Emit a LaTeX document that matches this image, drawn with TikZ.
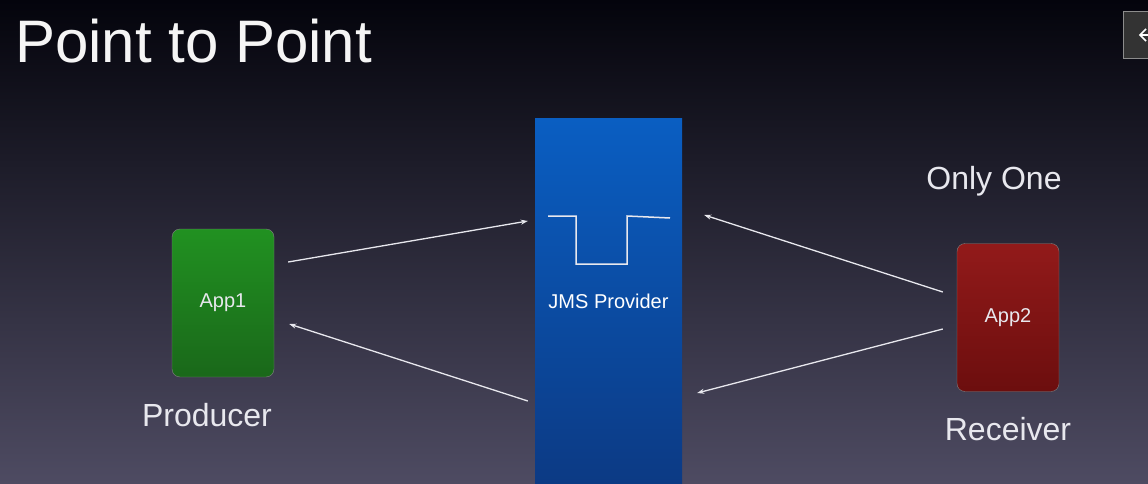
\documentclass[tikz,border=0pt]{standalone}
\usepackage{fontspec}
\setmainfont{Liberation Sans}
\usepackage{xcolor}
\usetikzlibrary{arrows.meta}
\definecolor{bgtop}{RGB}{4,4,12}
\definecolor{bgmid}{RGB}{20,20,40}
\definecolor{bgbot}{RGB}{78,75,98}
\definecolor{jmstop}{RGB}{10,94,194}
\definecolor{jmsbot}{RGB}{12,58,132}
\definecolor{apponetop}{RGB}{33,145,33}
\definecolor{apponebot}{RGB}{26,104,26}
\definecolor{apptwotop}{RGB}{146,26,26}
\definecolor{apptwobot}{RGB}{108,14,14}
\definecolor{linewhite}{RGB}{232,232,238}
\tikzstyle{arrow} = [line width=1.3pt,-{Stealth[length=7pt,width=5pt]},linewhite]

\begin{document}
\begin{tikzpicture}
        [
            x=1pt, y=-1pt,
            app/.style={rectangle,rounded corners=8pt,draw=black!50,minimum width=102pt,minimum height=148pt,text=linewhite,font=\fontsize{20}{24}\selectfont},
            rolename/.style={anchor=base,text=linewhite,font=\fontsize{32}{38}\selectfont},
        ]

    % background
    \shade[top color=bgtop, middle color=bgmid, bottom color=bgbot] (0,0) rectangle (1148,484);
    \useasboundingbox (0,0) rectangle (1148,484);

    \node (title) [anchor=base west,inner sep=0,text=white!92!gray,font=\fontsize{60}{70}\selectfont] at (15,63) {Point to Point};

    % button in the corner
    \node (backbtn) [rectangle,anchor=north west,fill=black!80,draw=black!45,line width=1pt,minimum width=40pt,minimum height=47pt] at (1123,11) {};
    \draw[white,line width=1.6pt] (1148,35) -- (1141,35) (1146,29) -- (1140,35) -- (1146,41);

    % provider with its queue
    \node (jms) [rectangle,top color=jmstop,bottom color=jmsbot,minimum width=147pt,minimum height=365pt,text=white,font=\fontsize{20}{24}\selectfont] at (608.5,301.5) {JMS Provider};
    \draw[linewhite,line width=1.5pt] (548,216) -- (576,216) -- (576,264) -- (627,264) -- (627,216) -- (670,218);

    \node (app1) [app,top color=apponetop,bottom color=apponebot] at (223,303) {App1};
    \node (app2) [app,top color=apptwotop,bottom color=apptwobot] at (1008,317.5) {App2};

    \node (producer) [rolename] at (207,426) {Producer};
    \node (receiver) [rolename] at (1008,440) {Receiver};
    \node (onlyone) [rolename] at (994,189) {Only One};

    \draw [arrow] ([xshift=14pt,yshift=41pt]app1.east) -- ([xshift=-7pt,yshift=80.5pt]jms.west);
    \draw [arrow] ([xshift=-7pt,yshift=-99.5pt]jms.west) -- ([xshift=15pt,yshift=-21pt]app1.east);
    \draw [arrow] ([xshift=-14pt,yshift=25.5pt]app2.west) -- ([xshift=22pt,yshift=86.5pt]jms.east);
    \draw [arrow] ([xshift=-14pt,yshift=-11.5pt]app2.west) -- ([xshift=15pt,yshift=-91.5pt]jms.east);
    \end{tikzpicture}
\end{document}
